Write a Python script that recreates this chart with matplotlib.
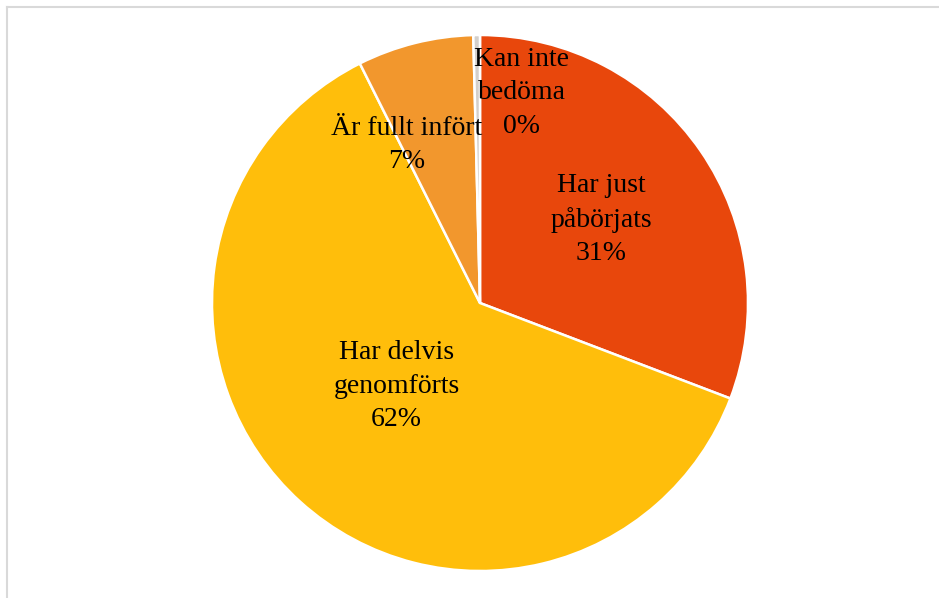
import matplotlib.pyplot as plt
import numpy as np

labels = ['Har just\npåbörjats', 'Har delvis\ngenomförts', 'Är fullt infört', 'Kan inte\nbedöma']
shares = [30.8, 61.8, 7.0, 0.4]
colors = ['#E8470C', '#FFBE0B', '#F2972D', '#D3CFCB']

# where each label sits: fraction of radius, and angle shift in degrees
label_r = [0.55, 0.44, 0.65, 0.80]
label_shift = [0, -3, 11, -12]

W, H = 939, 598
fig = plt.figure(figsize=(W / 100, H / 100), dpi=100)

# thin grey frame, only top and left visible
fig.add_artist(plt.Line2D([6.5 / W, 6.5 / W], [0, 1 - 6.5 / H], color='#d9d9d9', lw=1.5))
fig.add_artist(plt.Line2D([6.5 / W, 1], [1 - 6.5 / H, 1 - 6.5 / H], color='#d9d9d9', lw=1.5))

cx, cy, r = 480, 303, 268
ax = fig.add_axes([(cx - r) / W, (H - cy - r) / H, 2 * r / W, 2 * r / H])

wedges, _ = ax.pie(shares, colors=colors, startangle=90, counterclock=False,
                   radius=1, wedgeprops=dict(edgecolor='white', linewidth=1.8))
ax.set_xlim(-1, 1)
ax.set_ylim(-1, 1)
ax.set_aspect('equal')
ax.axis('off')

for w, lab, val, fr, sh in zip(wedges, labels, shares, label_r, label_shift):
    mid = np.deg2rad((w.theta1 + w.theta2) / 2 + sh)
    x, y = fr * np.cos(mid), fr * np.sin(mid)
    ax.text(x, y, f'{lab}\n{val:.0f}%', ha='center', va='center',
            family='Liberation Serif', fontsize=20, linespacing=1.45)

fig.savefig('out.png', dpi=100)
